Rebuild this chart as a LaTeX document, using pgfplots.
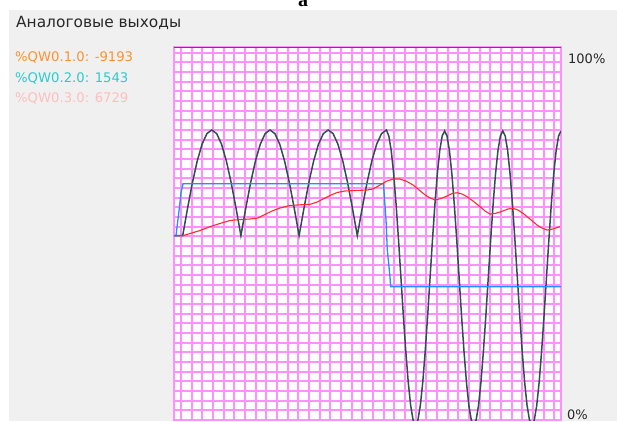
\documentclass[border=0pt]{standalone}
\usepackage{fontspec}
\setmainfont{DejaVu Sans}
\newfontfamily\serifa{Liberation Serif}
\usepackage{pgfplots}
\pgfplotsset{compat=1.18}
\definecolor{panelgray}{RGB}{240,240,240}
\definecolor{gridpink}{RGB}{255,145,255}
\definecolor{sigdark}{RGB}{47,79,79}
\definecolor{sigblue}{RGB}{30,144,255}
\definecolor{sigred}{RGB}{255,42,42}
\definecolor{legorange}{RGB}{255,145,45}
\definecolor{legcyan}{RGB}{40,205,205}
\definecolor{legpink}{RGB}{255,190,190}
\definecolor{titlegray}{RGB}{40,40,40}
\definecolor{topgray}{RGB}{85,85,85}
\begin{document}
\begin{tikzpicture}[x=1pt,y=1pt]
\useasboundingbox (0,0) rectangle (617,421);
\fill[white] (0,0) rectangle (617,421);
\fill[panelgray] (8.5,0) rectangle (617,411);
\node[anchor=base, inner sep=0pt] at (303,414) {\fontsize{20}{24}\selectfont\serifa\bfseries a};
\node[anchor=base west, inner sep=0pt, text=titlegray] at (16,393) {\fontsize{15.4}{18}\selectfont Аналоговые выходы};
\node[anchor=base west, inner sep=0pt, text=legorange] at (15,359) {\fontsize{13.2}{16}\selectfont \%QW0.1.0: -9193};
\node[anchor=base west, inner sep=0pt, text=legcyan] at (15,338.5) {\fontsize{13.2}{16}\selectfont \%QW0.2.0: 1543};
\node[anchor=base west, inner sep=0pt, text=legpink] at (15,318.5) {\fontsize{13.2}{16}\selectfont \%QW0.3.0: 6729};
\node[anchor=base west, inner sep=0pt, text=titlegray] at (568,357.7) {\fontsize{13}{16}\selectfont 100\%};
\node[anchor=base west, inner sep=0pt, text=titlegray] at (567,2) {\fontsize{13}{16}\selectfont 0\%};
\begin{axis}[
  at={(174pt,1pt)}, anchor=south west,
  scale only axis, width=387pt, height=373pt,
  xmin=-0.65625, xmax=35.625, ymin=0, ymax=38.585,
  xtick={0,1,2,3,4,5,6,7,8,9,10,11,12,13,14,15,16,17,18,19,20,21,22,23,24,25,26,27,28,29,30,31,32,33,34,35},
  ytick={1,2,3,4,5,6,7,8,9,10,11,12,13,14,15,16,17,18,19,20,21,22,23,24,25,26,27,28,29,30,31,32,33,34,35,36,37,38},
  minor x tick num=0, minor y tick num=0,
  xticklabels={}, yticklabels={},
  major tick length=0pt, minor tick length=0pt,
  tick style={draw=none},
  xmajorgrids=true, ymajorgrids=true,
  xminorgrids=false, yminorgrids=false,
  grid style={draw=gridpink, line width=1.9pt, solid},
  major grid style={draw=gridpink, line width=1.9pt, solid},
  axis line style={draw=gridpink, line width=1.9pt},
  axis background/.style={fill=white},
  clip=true,
]
\addplot[sigdark, line width=1.5pt] coordinates {
(-0.656,19.07) (0.159,19.07)
(0.614,21.90) (1.068,24.54) (1.523,26.80) (1.978,28.54) (2.433,29.63) (2.887,30.00) (3.342,29.63) (3.797,28.54) (4.251,26.80) (4.706,24.54) (5.161,21.90) (5.615,19.07)
(6.070,21.90) (6.525,24.54) (6.980,26.80) (7.434,28.54) (7.889,29.63) (8.344,30.00) (8.798,29.63) (9.253,28.54) (9.708,26.80) (10.162,24.54) (10.617,21.90) (11.072,19.07)
(11.527,21.90) (11.981,24.54) (12.436,26.80) (12.891,28.54) (13.345,29.63) (13.800,30.00) (14.255,29.63) (14.709,28.54) (15.164,26.80) (15.619,24.54) (16.074,21.90) (16.528,19.07)
(16.983,21.90) (17.438,24.54) (17.892,26.80) (18.347,28.54) (18.802,29.63) (19.256,30.00)
(19.483,29.38) (19.711,27.86) (19.938,25.45) (20.165,22.30) (20.393,18.63) (20.620,14.69) (20.847,10.75) (21.075,7.09) (21.302,3.93) (21.529,1.52) (21.757,0.00) (21.984,-0.52)
(22.211,0.00) (22.439,1.52) (22.666,3.93) (22.893,7.09) (23.121,10.75) (23.348,14.69) (23.575,18.63) (23.803,22.30) (24.030,25.45) (24.257,27.86) (24.485,29.38) (24.712,29.90)
(24.939,29.38) (25.167,27.86) (25.394,25.45) (25.621,22.30) (25.849,18.63) (26.076,14.69) (26.303,10.75) (26.531,7.09) (26.758,3.93) (26.985,1.52) (27.213,0.00) (27.440,-0.52)
(27.667,0.00) (27.895,1.52) (28.122,3.93) (28.349,7.09) (28.577,10.75) (28.804,14.69) (29.031,18.63) (29.259,22.30) (29.486,25.45) (29.713,27.86) (29.941,29.38) (30.168,29.90)
(30.395,29.38) (30.623,27.86) (30.850,25.45) (31.077,22.30) (31.305,18.63) (31.532,14.69) (31.759,10.75) (31.987,7.09) (32.214,3.93) (32.441,1.52) (32.669,0.00) (32.896,-0.52)
(33.123,0.00) (33.351,1.52) (33.578,3.93) (33.805,7.09) (34.033,10.75) (34.260,14.69) (34.487,18.63) (34.715,22.30) (34.942,25.45) (35.169,27.86) (35.397,29.38) (35.624,29.90)
};
\addplot[sigblue, line width=1.3pt] coordinates {
(-0.656,19.07) (-0.469,19.07) (-0.159,21.90) (0.000,23.51) (0.188,24.44)
(18.980,24.44) (19.220,20.69) (19.340,17.59) (19.590,14.82) (19.660,13.79) (35.625,13.79)
};
\addplot[sigred, line width=1.1pt] coordinates {
(-0.656,19.07) (0.188,19.07) (0.844,19.29) (1.781,19.60) (2.719,20.00) (3.656,20.33) (4.594,20.64) (5.531,20.74) (6.469,20.79) (7.219,20.90) (7.875,21.26) (8.531,21.62) (9.281,21.93) (10.219,22.19) (11.156,22.26) (12.094,22.31) (12.750,22.55) (13.313,22.86) (13.969,23.22) (14.625,23.53) (15.375,23.69) (16.313,23.74) (17.438,23.79) (18.000,23.90) (18.656,24.31) (19.313,24.72) (19.875,24.93) (20.531,24.93) (21.188,24.67) (21.750,24.31) (22.219,23.90) (22.688,23.45) (23.250,23.02) (23.813,22.76) (24.375,22.91) (24.938,23.17) (25.406,23.43) (25.875,23.51) (26.344,23.38) (26.813,23.10) (27.375,22.65) (28.031,22.07) (28.500,21.62) (28.969,21.31) (29.438,21.36) (30.188,21.62) (30.656,21.83) (31.125,21.90) (31.594,21.72) (32.063,21.38) (32.719,20.79) (33.375,20.17) (33.844,19.86) (34.313,19.65) (34.875,19.76) (35.531,20.00)
};
\draw[topgray, line width=1.8pt] (rel axis cs:0,1) -- (rel axis cs:1,1);
\end{axis}
\end{tikzpicture}
\end{document}
